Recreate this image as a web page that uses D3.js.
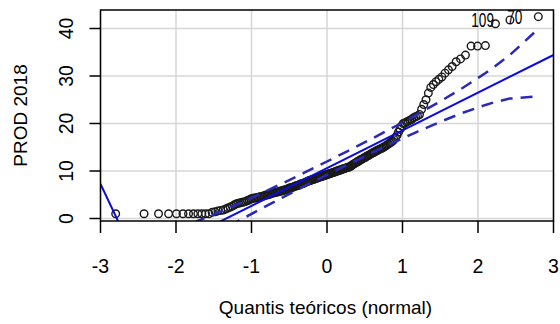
<!DOCTYPE html>
<html>
<head>
<meta charset="utf-8">
<script src="https://cdn.jsdelivr.net/npm/d3@7"></script>
<style>
  body { margin: 0; background: #fff; }
  text { font-family: "Liberation Sans", Arial, sans-serif; fill: #000; }
</style>
</head>
<body>
<div class="board"></div>
<script>
var WIDTH = 560;
var HEIGHT = 324;

// PROD 2018, sorted sample values
var prodValues = [
  1, 1, 1, 1, 1, 1, 1, 1, 1, 1, 1, 1,
  1.3, 1.4, 1.6, 1.7, 1.8, 2.0, 2.2,
  2.4, 2.6, 2.9, 3.1,
  3.2, 3.3, 3.4, 3.5, 3.6, 3.8, 3.9, 4.1,
  4.2, 4.3, 4.3, 4.4, 4.5, 4.6, 4.6, 4.7, 4.8, 4.9, 5.0, 5.0, 5.1, 5.2, 5.3,
  5.4, 5.4, 5.5, 5.6, 5.6, 5.7, 5.8, 5.8, 5.9, 6.0, 6.0, 6.1, 6.2, 6.3,
  6.4, 6.5, 6.5, 6.6, 6.7, 6.8, 6.9, 6.9, 7.0, 7.1, 7.2, 7.3, 7.3, 7.4, 7.5, 7.6, 7.7, 7.8, 7.9, 8.0,
  8.0, 8.1, 8.2, 8.2, 8.3, 8.4, 8.5, 8.5, 8.6, 8.7, 8.8, 8.8, 8.9, 9.0, 9.0, 9.1, 9.2, 9.2,
  9.3, 9.4, 9.4, 9.5, 9.6, 9.7, 9.7, 9.8, 9.9, 10.0, 10.0, 10.1, 10.2, 10.2, 10.3, 10.4, 10.5, 10.5, 10.6, 10.7, 10.8, 10.8, 10.9, 11.0,
  11.2, 11.3, 11.5, 11.6, 11.7, 11.9, 12.0, 12.1, 12.3, 12.4, 12.5, 12.7, 12.8, 12.9, 13.1, 13.2, 13.3, 13.5,
  13.6, 13.8, 13.9, 14.0, 14.2, 14.3, 14.4, 14.6, 14.7, 14.8, 15.0, 15.1, 15.3, 15.5, 15.7,
  15.9, 16.1, 16.3, 16.6, 17.0, 17.5, 18.2, 18.8, 19.5,
  20.0, 20.1, 20.3, 20.5, 20.7, 20.9, 21.2, 21.4, 21.6, 21.9,
  23.0, 24.0, 25.0, 26.4, 27.6, 28.2, 28.8, 29.3, 29.8, 30.6, 31.3, 32.0, 33.0, 33.6, 34.4,
  36.3, 36.3, 36.4,
  41.0, 41.8, 42.5
];

// labelled observations (rank in sorted order -> id)
var labelRanks = [194, 195];
var labelTexts = ['109', '70'];

// reference line and confidence envelope
var fitQ = [-3, 3];
var fitV = [-13.22, 34.42];
var envQ = [-2.8, -2.42, -2.1, -1.8, -1.5, -1.2, -0.9, -0.6, -0.3, 0, 0.3, 0.6, 0.9, 1.2, 1.5, 1.8, 2.1, 2.23, 2.42, 2.8];
var envUpper = [-4.52, -4.04, -2.71, -1.06, 0.84, 2.90, 5.07, 7.33, 9.64, 12.00, 14.40, 16.85, 19.37, 21.96, 24.66, 27.52, 30.63, 32.10, 34.38, 39.94];
var envLower = [-18.74, -13.18, -9.43, -6.32, -3.46, -0.76, 1.83, 4.35, 6.80, 9.20, 11.56, 13.87, 16.13, 18.30, 20.36, 22.26, 23.91, 24.53, 25.24, 25.72];
var leftSegQ = [-3, -2.768];
var leftSegV = [7.26, -0.53];

var xTicks = [-3, -2, -1, 0, 1, 2, 3];
var yTicks = [0, 10, 20, 30, 40];

var xLabel = 'Quantis teóricos (normal)';
var yLabel = 'PROD 2018';

// inverse standard normal cdf (Acklam)
var qnorm = function(p) {
  var a = [-3.969683028665376e+01, 2.209460984245205e+02, -2.759285104469687e+02, 1.383577518672690e+02, -3.066479806614716e+01, 2.506628277459239e+00];
  var b = [-5.447609879822406e+01, 1.615858368580409e+02, -1.556989798598866e+02, 6.680131188771972e+01, -1.328068155288572e+01];
  var c = [-7.784894002430293e-03, -3.223964580411365e-01, -2.400758277161838e+00, -2.549732539343734e+00, 4.374664141464968e+00, 2.938163982698783e+00];
  var d = [7.784695709041462e-03, 3.224671290700398e-01, 2.445134137142996e+00, 3.754408661907416e+00];
  var q, r;
  if (p < 0.02425) {
    q = Math.sqrt(-2 * Math.log(p));
    return (((((c[0]*q+c[1])*q+c[2])*q+c[3])*q+c[4])*q+c[5]) / ((((d[0]*q+d[1])*q+d[2])*q+d[3])*q+1);
  }
  if (p > 1 - 0.02425) {
    q = Math.sqrt(-2 * Math.log(1 - p));
    return -(((((c[0]*q+c[1])*q+c[2])*q+c[3])*q+c[4])*q+c[5]) / ((((d[0]*q+d[1])*q+d[2])*q+d[3])*q+1);
  }
  q = p - 0.5;
  r = q * q;
  return (((((a[0]*r+a[1])*r+a[2])*r+a[3])*r+a[4])*r+a[5])*q / (((((b[0]*r+b[1])*r+b[2])*r+b[3])*r+b[4])*r+1);
};

var n = prodValues.length;
var points = prodValues.map(function(v, i) {
  return { q: qnorm((i + 0.5) / n), v: v, rank: i + 1 };
});

// plot box (note: "top" is reserved on window, so use other names)
var boxL = 100.5, boxR = 553.5, boxT = 10, boxB = 221;

var x = d3.scaleLinear().domain([-3, 3]).range([boxL, boxR]);
var y = d3.scaleLinear().domain([0, 40]).range([218.5, 28.5]);

var svg = d3.select('.board')
  .append('svg')
  .attr('width', WIDTH)
  .attr('height', HEIGHT);

svg.append('rect')
  .attr('width', WIDTH)
  .attr('height', HEIGHT)
  .attr('fill', '#fff');

svg.append('defs').append('clipPath')
  .attr('id', 'plotclip')
  .append('rect')
  .attr('x', boxL)
  .attr('y', boxT)
  .attr('width', boxR - boxL)
  .attr('height', boxB - boxT);

// grid
var grid = svg.append('g')
  .attr('stroke', '#d6d6d6')
  .attr('stroke-width', 1.5);
grid.selectAll('line.gx')
  .data(xTicks)
  .enter()
  .append('line')
  .attr('class', 'gx')
  .attr('x1', function(d) { return x(d); })
  .attr('x2', function(d) { return x(d); })
  .attr('y1', boxT)
  .attr('y2', boxB);
grid.selectAll('line.gy')
  .data(yTicks)
  .enter()
  .append('line')
  .attr('class', 'gy')
  .attr('x1', boxL)
  .attr('x2', boxR)
  .attr('y1', function(d) { return y(d); })
  .attr('y2', function(d) { return y(d); });

var plot = svg.append('g').attr('clip-path', 'url(#plotclip)');

plot.selectAll('circle')
  .data(points)
  .enter()
  .append('circle')
  .attr('cx', function(d) { return x(d.q); })
  .attr('cy', function(d) { return y(d.v); })
  .attr('r', 3.8)
  .attr('fill', 'none')
  .attr('stroke', '#1a1a1a')
  .attr('stroke-width', 1.4);

var pairLine = function(qs, vs) {
  return d3.line()
    .x(function(d) { return x(d); })
    .y(function(d, i) { return y(vs[i]); })(qs);
};

plot.append('path')
  .attr('d', pairLine(fitQ, fitV))
  .attr('fill', 'none')
  .attr('stroke', '#0c0cdc')
  .attr('stroke-width', 2);

plot.append('path')
  .attr('d', pairLine(leftSegQ, leftSegV))
  .attr('fill', 'none')
  .attr('stroke', '#0c0cdc')
  .attr('stroke-width', 2);

[envUpper, envLower].forEach(function(vals) {
  plot.append('path')
    .attr('d', pairLine(envQ, vals))
    .attr('fill', 'none')
    .attr('stroke', '#2a2ab8')
    .attr('stroke-width', 2.5)
    .attr('stroke-dasharray', '12,8');
});

// point labels
labelRanks.forEach(function(rank, k) {
  var p = points[rank - 1];
  svg.append('text')
    .attr('transform', 'translate(' + (x(p.q) - 16) + ',' + (y(p.v) + 7) + ') scale(0.68,1)')
    .attr('text-anchor', 'end')
    .attr('font-size', 20)
    .text(labelTexts[k]);
});

// box
svg.append('rect')
  .attr('x', boxL)
  .attr('y', boxT)
  .attr('width', boxR - boxL)
  .attr('height', boxB - boxT)
  .attr('fill', 'none')
  .attr('stroke', '#000')
  .attr('stroke-width', 1.5);

// x axis
var xAxis = svg.append('g');
xAxis.selectAll('line')
  .data(xTicks)
  .enter()
  .append('line')
  .attr('x1', function(d) { return x(d); })
  .attr('x2', function(d) { return x(d); })
  .attr('y1', boxB)
  .attr('y2', boxB + 12)
  .attr('stroke', '#000')
  .attr('stroke-width', 1.5);
xAxis.selectAll('text')
  .data(xTicks)
  .enter()
  .append('text')
  .attr('x', function(d) { return x(d); })
  .attr('y', 273)
  .attr('text-anchor', 'middle')
  .attr('font-size', 19.5)
  .text(function(d) { return d; });

// y axis
var yAxis = svg.append('g');
yAxis.selectAll('line')
  .data(yTicks)
  .enter()
  .append('line')
  .attr('x1', boxL - 11)
  .attr('x2', boxL)
  .attr('y1', function(d) { return y(d); })
  .attr('y2', function(d) { return y(d); })
  .attr('stroke', '#000')
  .attr('stroke-width', 1.5);
yAxis.selectAll('text')
  .data(yTicks)
  .enter()
  .append('text')
  .attr('transform', function(d) { return 'translate(73,' + y(d) + ') rotate(-90)'; })
  .attr('text-anchor', 'middle')
  .attr('font-size', 19.5)
  .text(function(d) { return d; });

svg.append('text')
  .attr('x', (boxL + boxR) / 2 - 1.5)
  .attr('y', 314)
  .attr('text-anchor', 'middle')
  .attr('font-size', 19)
  .text(xLabel);

svg.append('text')
  .attr('transform', 'translate(27,' + ((boxT + boxB) / 2) + ') rotate(-90)')
  .attr('text-anchor', 'middle')
  .attr('font-size', 19)
  .text(yLabel);
</script>
</body>
</html>
